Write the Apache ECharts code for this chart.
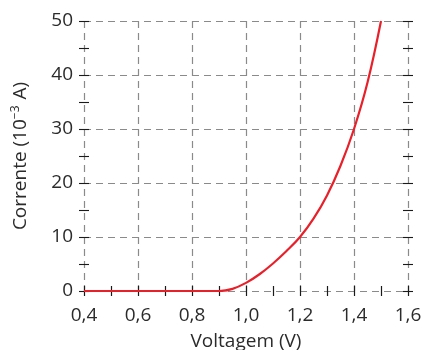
<!DOCTYPE html>
<html>
<head>
<meta charset="utf-8">
<script src="https://cdn.jsdelivr.net/npm/echarts@6/dist/echarts.min.js"></script>
<style>
html,body{margin:0;padding:0;background:#fff;}
#chart{width:421px;height:350px;}
</style>
</head>
<body>
<div id="chart"></div>
<script>
// Data
const voltage = [0.4, 0.5, 0.6, 0.7, 0.8, 0.9, 0.95, 1.0, 1.05, 1.1, 1.15, 1.2, 1.25, 1.3, 1.35, 1.4, 1.45, 1.5];
const current = [0, 0, 0, 0, 0, 0, 0.4, 1.5, 3.1, 5.1, 7.4, 10, 13.4, 17.7, 23.2, 30, 38.6, 50];
const xTitle = 'Voltagem (V)';
const yTitle = 'Corrente (10{sup|−3} A)';

const FONT = 'Open Sans';
const TXT = '#2b2b2b';
const GRIDC = '#8a8a8a';
const TICKC = '#1a1a1a';

const chart = echarts.init(document.getElementById('chart'), null, {renderer: 'canvas'});

function xAx(position, inside, main) {
  return {
    type: 'value', min: 0.4, max: 1.6, interval: 0.2, position: position,
    axisLine: {show: false},
    axisTick: {show: true, inside: inside, length: 5, lineStyle: {color: TICKC, width: 1.1}},
    minorTick: {show: true, splitNumber: 2, length: 5, lineStyle: {color: TICKC, width: 1.1}},
    splitLine: {show: main, lineStyle: {color: GRIDC, type: [7, 5], width: 1.2}},
    axisLabel: {show: main && position === 'bottom', fontFamily: FONT, fontSize: 19, color: TXT, margin: 15,
      formatter: v => v.toFixed(1).replace('.', ',')},
    name: (main && position === 'bottom') ? xTitle : '',
    nameLocation: 'middle', nameGap: 41,
    nameTextStyle: {fontFamily: FONT, fontSize: 19, color: TXT}
  };
}
function yAx(position, inside, main) {
  return {
    type: 'value', min: 0, max: 50, interval: 10, position: position,
    axisLine: {show: false},
    axisTick: {show: true, inside: inside, length: 5, lineStyle: {color: TICKC, width: 1.1}},
    minorTick: {show: true, splitNumber: 2, length: 5, lineStyle: {color: TICKC, width: 1.1}},
    splitLine: {show: main, lineStyle: {color: GRIDC, type: [7, 5], width: 1.2}},
    axisLabel: {show: main && position === 'left', fontFamily: FONT, fontSize: 19, color: TXT, margin: 11},
    name: (main && position === 'left') ? yTitle : '',
    nameLocation: 'middle', nameGap: 52, nameRotate: 90,
    nameTextStyle: {fontFamily: FONT, fontSize: 19, color: TXT,
      rich: {sup: {fontFamily: FONT, fontSize: 12, color: TXT, verticalAlign: 'top', padding: [0, 1, 10, 0]}}}
  };
}

chart.setOption({
  animation: false,
  backgroundColor: '#fff',
  grid: {left: 84, right: 13, top: 21, bottom: 59, containLabel: false, outerBoundsMode: 'none'},
  xAxis: [xAx('bottom', false, true), xAx('bottom', true, false), xAx('top', false, false), xAx('top', true, false)],
  yAxis: [yAx('left', false, true), yAx('left', true, false), yAx('right', false, false), yAx('right', true, false)],
  series: [{
    type: 'line',
    data: voltage.map((v, i) => [v, current[i]]),
    smooth: 0.4,
    showSymbol: false,
    lineStyle: {color: '#e8202a', width: 2.2},
    z: 5
  }]
});
</script>
</body>
</html>
